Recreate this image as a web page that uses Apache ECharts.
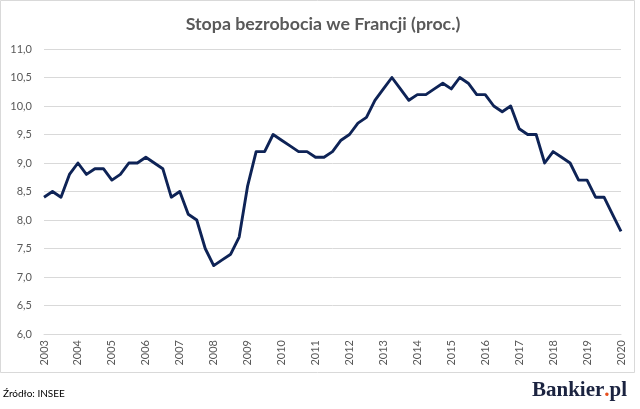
<!DOCTYPE html>
<html><head><meta charset="utf-8">
<script src="https://cdn.jsdelivr.net/npm/echarts@6/dist/echarts.min.js"></script>
<style>html,body{margin:0;padding:0;background:#fff}#c{width:640px;height:409px}</style>
</head><body><div id="c"></div>
<script>
const years = ["2003","2004","2005","2006","2007","2008","2009","2010","2011","2012","2013","2014","2015","2016","2017","2018","2019","2020"];
const quarterLabels = ["Q1","Q2","Q3","Q4"];
const unemployment = [
  8.4, 8.5, 8.4, 8.8,
  9.0, 8.8, 8.9, 8.9,
  8.7, 8.8, 9.0, 9.0,
  9.1, 9.0, 8.9, 8.4,
  8.5, 8.1, 8.0, 7.5,
  7.2, 7.3, 7.4, 7.7,
  8.6, 9.2, 9.2, 9.5,
  9.4, 9.3, 9.2, 9.2,
  9.1, 9.1, 9.2, 9.4,
  9.5, 9.7, 9.8, 10.1,
  10.3, 10.5, 10.3, 10.1,
  10.2, 10.2, 10.3, 10.4,
  10.3, 10.5, 10.4, 10.2,
  10.2, 10.0, 9.9, 10.0,
  9.6, 9.5, 9.5, 9.0,
  9.2, 9.1, 9.0, 8.7,
  8.7, 8.4, 8.4, 8.1,
  7.8
];
const title = "Stopa bezrobocia we Francji (proc.)";
const source = "Źródło: INSEE";

const categories = [];
years.forEach(y => quarterLabels.forEach(q => categories.push(y + " " + q)));
categories.length = unemployment.length;

const chart = echarts.init(document.getElementById('c'), null, {renderer:'canvas'});
chart.setOption({
  animation: false,
  backgroundColor: '#fff',
  title: {
    text: title, left: 318, top: 10, textAlign: 'center',
    textStyle: {fontFamily: 'Lato', fontWeight: 'bold', fontSize: 17.8, color: '#595959'}
  },
  grid: {left: 44, right: 19, top: 49, bottom: 75, containLabel: false},
  xAxis: {
    type: 'category', data: categories, boundaryGap: false,
    axisLine: {show: true, lineStyle: {color: '#d9d9d9'}},
    axisTick: {show: false},
    axisLabel: {
      interval: 3, rotate: 90, margin: 6,
      fontFamily: 'Lato', fontSize: 11, color: '#595959',
      formatter: v => v.split(' ')[0]
    },
    splitLine: {show: false}
  },
  yAxis: {
    type: 'value', min: 6, max: 11, interval: 0.5,
    axisLine: {show: false}, axisTick: {show: false},
    axisLabel: {
      margin: 12, fontFamily: 'Lato', fontSize: 11, color: '#595959',
      formatter: v => v.toFixed(1).replace('.', ',')
    },
    splitLine: {lineStyle: {color: '#d9d9d9', width: 1}}
  },
  series: [{
    type: 'line', data: unemployment, showSymbol: false, symbol: 'none',
    lineStyle: {color: '#0e2356', width: 2.9, join: 'round'},
    itemStyle: {color: '#0e2356'}
  }],
  graphic: [
    {type: 'rect', shape: {x: 0.5, y: 0.5, width: 634, height: 372},
     style: {fill: null, stroke: '#d9d9d9', lineWidth: 1}, silent: true, z: -1},
    {type: 'text', left: 3, top: 389,
     style: {text: source, fontFamily: 'Lato', fontSize: 10, fill: '#000'}},
    {type: 'text', left: 532, top: 380,
     style: {rich: {a: {fontFamily: 'Liberation Serif', fontWeight: 'bold', fontSize: 21, fill: '#1b2340'},
                    d: {fontFamily: 'Liberation Serif', fontWeight: 'bold', fontSize: 21, fill: '#e8501e'}},
             text: '{a|Bankier}{d|.}{a|pl}'}}
  ]
});
</script></body></html>
